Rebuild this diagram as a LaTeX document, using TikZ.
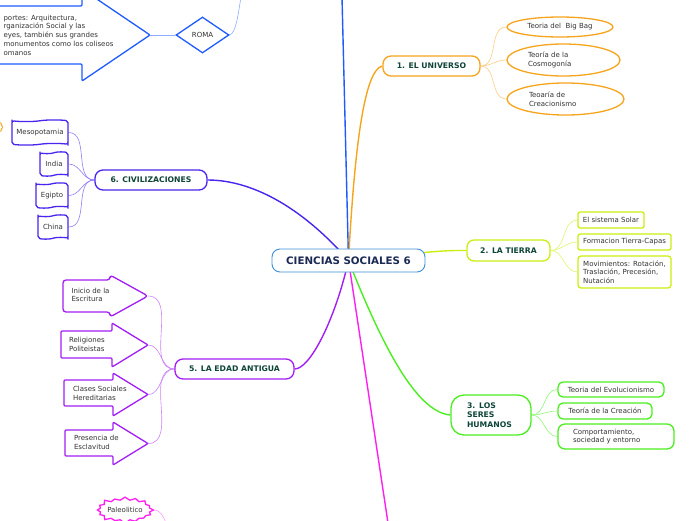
\documentclass[tikz,border=0pt]{standalone}
\usepackage{fontspec}
\setmainfont{DejaVu Sans}
\usetikzlibrary{shapes.geometric,shapes.symbols,backgrounds}
\definecolor{ccenter}{HTML}{3D8FD6}
\definecolor{cnavy}{HTML}{1B2A55}
\definecolor{ctext}{HTML}{0E4538}
\definecolor{cgray}{HTML}{333333}
\definecolor{cblue}{HTML}{1F5BFF}
\definecolor{corange}{HTML}{F7A41D}
\definecolor{cyellow}{HTML}{C9EF12}
\definecolor{cgreen}{HTML}{4AEE1E}
\definecolor{cmagenta}{HTML}{FF1FF0}
\definecolor{cpurple}{HTML}{A21EF5}
\definecolor{cviolet}{HTML}{4A25EE}
% block arrow: style, left x, body top, body bottom, head x, head top, head bottom, tip x, tip name
\newcommand{\barr}[9]{\draw[#1] (#2,#3) -- (#5,#3) -- (#5,#6) -- (#8,{(#6+#7)/2}) -- (#5,#7) -- (#5,#4) -- (#2,#4) -- cycle; \coordinate (#9) at (#8,{(#6+#7)/2});}

\begin{document}
\begin{tikzpicture}[x=1pt,y=-1pt,
  lbl/.style={font=\fontsize{7.7}{9.5}\selectfont\bfseries,text=ctext},
  small/.style={font=\fontsize{7}{8.7}\selectfont,text=cgray},
  topic/.style={rounded corners=8pt,fill=white,line width=1.3pt,inner sep=0pt,lbl},
  leaf/.style={fill=white,line width=1.3pt,inner sep=0pt,small},
  arrbox/.style={fill=white,line width=1.3pt,line join=round,rounded corners=1pt},
  mainln/.style={line width=1.4pt},
  subln/.style={line width=0.6pt}]
\useasboundingbox (0,0) rectangle (696,520);

% centre
\node[topic,draw=ccenter,text=cnavy,font=\fontsize{10.3}{12}\selectfont\bfseries,minimum width=153pt,minimum height=23pt,line width=0.9pt] (ciencias) at (348.5,260.5) {CIENCIAS SOCIALES 6};
\coordinate (topend) at (342,-3); \coordinate (botend) at (388,523);

% 1. el universo
\node[topic,draw=corange,minimum width=97pt,minimum height=20pt] (universo) at (431.5,66) {1. EL UNIVERSO};
\node[leaf,ellipse,draw=corange,minimum width=106pt,minimum height=20pt] (bigbang) at (560,27) {Teoria del~ Big Bag};
\node[leaf,ellipse,draw=corange,minimum width=113pt,minimum height=32pt,text width=71pt,align=left] (cosmo) at (563.5,60) {Teoría de la\\Cosmogonía};
\node[leaf,ellipse,draw=corange,minimum width=117pt,minimum height=32pt,text width=73pt,align=left] (creac) at (565.5,99) {Teoaría de\\Creacionismo};

% 2. la tierra
\node[topic,draw=cyellow,minimum width=83pt,minimum height=21pt,rounded corners=7pt] (tierra) at (508.5,250.5) {2. LA TIERRA};
\node[leaf,draw=cyellow,rounded corners=2pt,minimum width=66pt,minimum height=16pt] (solar) at (611,220) {El sistema Solar};
\node[leaf,draw=cyellow,rounded corners=2pt,minimum width=93pt,minimum height=16pt] (capas) at (624.5,242) {Formacion Tierra-Capas};
\node[leaf,draw=cyellow,rounded corners=3pt,minimum width=93pt,minimum height=32pt,align=left] (movim) at (624.5,272) {Movimientos: Rotación,\\Traslación, Precesión,\\Nutación};

% 3. los seres humanos
\node[topic,draw=cgreen,minimum width=80pt,minimum height=40pt,rounded corners=13pt,text width=48pt,align=left] (seres) at (491,415) {3. LOS\\SERES\\HUMANOS};
\node[leaf,draw=cgreen,rounded corners=5pt,minimum width=106pt,minimum height=15pt] (evol) at (611,389.5) {Teoria del Evolucionismo};
\node[leaf,draw=cgreen,rounded corners=5pt,minimum width=94pt,minimum height=16pt] (creacion) at (605,411) {Teoría de la Creación};
\node[leaf,draw=cgreen,rounded corners=7pt,minimum width=116pt,minimum height=25pt,text width=86pt,align=left] (comport) at (616,436.5) {Comportamiento,\\sociedad y entorno};

% 5. la edad antigua
\node[topic,draw=cpurple,minimum width=119pt,minimum height=20pt] (antigua) at (234.5,369) {5. LA EDAD ANTIGUA};
\barr{arrbox,draw=cpurple,rounded corners=3pt}{63}{280}{312}{110}{275}{317}{148}{tipA}
\barr{arrbox,draw=cpurple}{61}{331}{358}{112}{323}{367}{148}{tipB}
\barr{arrbox,draw=cpurple}{64}{380}{406}{113}{373}{416}{148}{tipC}
\barr{arrbox,draw=cpurple}{65}{430}{456}{113}{422}{465}{148}{tipD}
\node[small,anchor=west,align=left] (escritura) at (68,295) {Inicio de la\\Escritura};
\node[small,anchor=west,align=left] (religiones) at (65.5,344.5) {Religiones\\Politeistas};
\node[small,anchor=west,align=left] (clases) at (69.5,393.5) {Clases Sociales\\Hereditarias};
\node[small,anchor=west,align=left] (esclavitud) at (70.5,442.5) {Presencia de\\Esclavitud};

% 6. civilizaciones
\node[topic,draw=cviolet,minimum width=112pt,minimum height=20pt] (civil) at (151,180) {6. CIVILIZACIONES};
\node[leaf,tape,draw=cviolet,tape bend height=1.5pt,rounded corners=2pt,minimum width=56pt,minimum height=25pt] (mesop) at (40,132.5) {Mesopotamia};
\node[leaf,tape,draw=cviolet,tape bend height=1.5pt,rounded corners=2pt,minimum width=28pt,minimum height=24pt] (india) at (54,164) {India};
\node[leaf,tape,draw=cviolet,tape bend height=1.5pt,rounded corners=2pt,minimum width=32pt,minimum height=25pt] (egipto) at (52,195.5) {Egipto};
\node[leaf,tape,draw=cviolet,tape bend height=1.5pt,rounded corners=2pt,minimum width=30pt,minimum height=24pt] (china) at (53,227) {China};
\node[circle,draw=corange,line width=1pt,minimum size=11pt,inner sep=0pt] (orb) at (-3,127) {};

% roma
\barr{arrbox,draw=cblue}{-10}{6}{64}{82}{-11}{81}{150}{tipR}
\node[small,anchor=west,align=left] (aportes) at (0,35) {portes: Arquitectura,\\rganización Social y las\\eyes, también sus grandes\\monumentos como los coliseos\\omanos};
\node[leaf,diamond,draw=cblue,minimum width=53pt,minimum height=36pt] (roma) at (202.5,35) {ROMA};
\coordinate (romaend) at (241,-3);

% paleolitico
\node[leaf,starburst,draw=cmagenta,minimum width=55pt,minimum height=28pt,starburst points=16,starburst point height=4pt] (paleo) at (125,510) {Paleolitico};
\coordinate (paleoend) at (166,523);

\begin{scope}[on background layer]
\draw[mainln,cblue] (ciencias.center) -- (topend);
\draw[mainln,corange] (ciencias.center) .. controls (355,140) and (365,70) .. (universo.west);
\draw[mainln,cyellow] (ciencias.center) .. controls (420,253) and (440,250) .. (tierra.west);
\draw[mainln,cgreen] (ciencias.center) .. controls (380,340) and (415,412) .. (seres.west);
\draw[mainln,cmagenta] (ciencias.center) -- (botend);
\draw[mainln,cpurple] (ciencias.center) .. controls (335,320) and (310,369) .. (antigua.east);
\draw[mainln,cviolet] (ciencias.center) .. controls (300,205) and (250,180) .. (civil.east);
\foreach \n in {bigbang,cosmo,creac} \draw[subln,corange!55] (universo.east) to[out=0,in=180] (\n.west);
\foreach \n in {solar,capas,movim} \draw[subln,cyellow!60] (tierra.east) to[out=0,in=180] (\n.west);
\foreach \n in {evol,creacion,comport} \draw[subln,cgreen!60] (seres.east) to[out=0,in=180] (\n.west);
\foreach \n in {tipA,tipB,tipC,tipD} \draw[subln,cpurple!55] (antigua.west) to[out=180,in=0] (\n);
\foreach \n in {mesop,india,egipto,china} \draw[subln,cviolet!60] (civil.west) to[out=180,in=0] (\n.east);
\draw[subln,cblue!50] (tipR) -- (roma.west);
\draw[subln,cblue!50] (roma.east) .. controls (236,33) and (238,15) .. (romaend);
\draw[subln,cmagenta!45] (paleo.east) .. controls (159,510) and (163,515) .. (paleoend);
\end{scope}
\end{tikzpicture}
\end{document}
